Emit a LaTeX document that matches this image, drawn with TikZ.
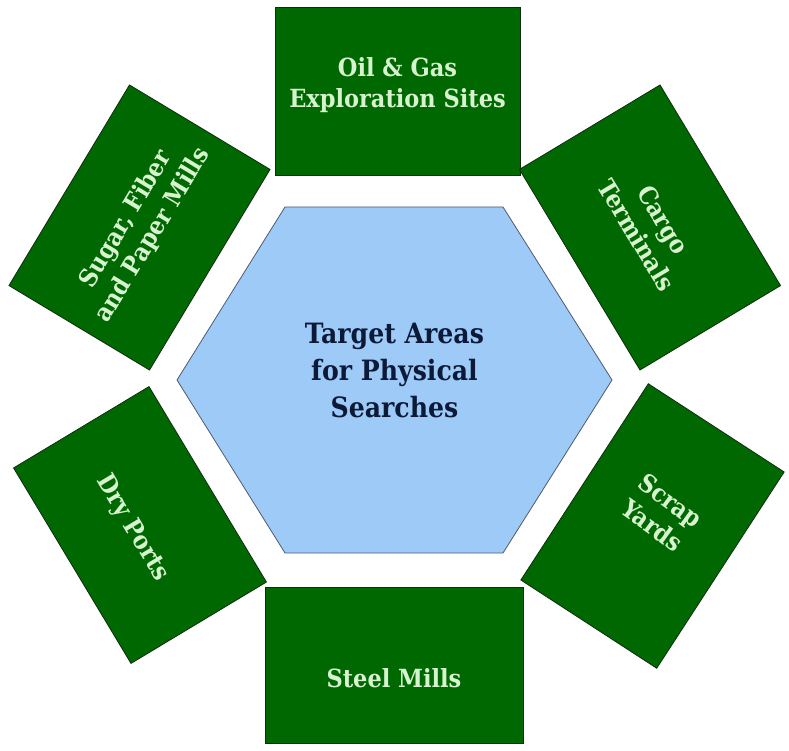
\documentclass[tikz,border=0pt]{standalone}
\usepackage{fontspec}
\setmainfont{DejaVu Serif}
\newfontfamily\slabfont{DejaVu Serif Condensed}
\usetikzlibrary{calc}

\definecolor{sitegreen}{RGB}{0,104,0}
\definecolor{siteline}{RGB}{15,45,15}
\definecolor{sitetext}{RGB}{214,242,206}
\definecolor{hubblue}{RGB}{157,202,247}
\definecolor{hubline}{RGB}{80,90,110}
\definecolor{hubtext}{RGB}{12,26,56}

\tikzset{
    site/.style={
        rectangle, draw=siteline, line width=0.8pt,
        fill=sitegreen, text=sitetext,
        minimum width=234pt, minimum height=164pt,
        align=center, font=\slabfont\bfseries\fontsize{25}{31}\selectfont
    },
    sitelabel/.style={
        text=sitetext, align=center,
        font=\slabfont\bfseries\fontsize{25}{31}\selectfont
    },
    hub/.style={
        draw=hubline, line width=0.8pt, fill=hubblue
    },
    hublabel/.style={
        text=hubtext, align=center,
        font=\slabfont\bfseries\fontsize{28}{37}\selectfont
    }
}

\begin{document}
\begin{tikzpicture}[x=1pt, y=1pt]
\useasboundingbox (0,0) rectangle (789,750);

% Centre hexagon
\coordinate (hubc) at (394.5,370);
\draw[hub] (177,370) -- (285,543) -- (503,543) -- (612,370)
    -- (503,197) -- (285,197) -- cycle;
\node[hublabel] (hub) at ($(hubc)+(0,10)$) {Target Areas\\for Physical\\Searches};

% Search sites around the hexagon
\node[site, minimum width=245pt, minimum height=168pt] (oilgas) at (397.5,659) {};
\node[sitelabel] (oilgastext) at ($(oilgas.center)+(0,6)$) {Oil \& Gas\\Exploration Sites};
\node[site, rotate=-59] (cargo) at (650,522.5) {Cargo\\Terminals};
\node[site, rotate=-33, minimum width=162pt, minimum height=234pt] (scrap) at (652.5,224) {};
\node[sitelabel, rotate=-36] (scraptext) at ($(scrap.center)+(9,13)$) {Scrap\\Yards};
\node[site, minimum width=258pt, minimum height=156pt] (steel) at (394,85) {};
\node[sitelabel] (steeltext) at ($(steel.center)+(0,-13)$) {Steel Mills};
\node[site, rotate=-59, minimum width=228pt, minimum height=158pt] (dryports) at (140,225) {};
\node[sitelabel, rotate=-59] (dryportstext) at ($(dryports.center)+(-8,-3)$) {Dry Ports};
\node[site, rotate=59] (sugar) at (139.5,522.5) {Sugar, Fiber\\and Paper Mills};

\end{tikzpicture}
\end{document}
